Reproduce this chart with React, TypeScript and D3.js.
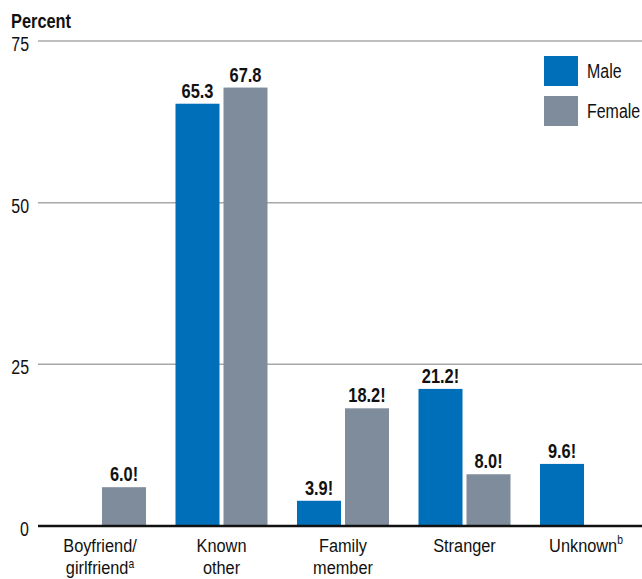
import React from "react";
import * as d3 from "d3";

const categories = ["Boyfriend/girlfriend", "Known other", "Family member", "Stranger", "Unknown"];
const categoryLines: [string, string, string?][] = [
  ["Boyfriend/", "girlfriend", "a"],
  ["Known", "other"],
  ["Family", "member"],
  ["Stranger", ""],
  ["Unknown", "", "b"],
];
const series = ["Male", "Female"];
const maleValues: (number | null)[] = [null, 65.3, 3.9, 21.2, 9.6];
const femaleValues: (number | null)[] = [6.0, 67.8, 18.2, 8.0, null];
const maleLabels = ["", "65.3", "3.9!", "21.2!", "9.6!"];
const femaleLabels = ["6.0!", "67.8", "18.2!", "8.0!", ""];
const yTicks = [0, 25, 50, 75];

const colors: Record<string, string> = { Male: "#006fba", Female: "#7f8c9b" };
const FONT = "'Liberation Sans', Arial, sans-serif";

function T({ x, y, anchor = "start", size = 20, weight = "normal", sx = 0.8, children }: any) {
  return (
    <text
      transform={`translate(${x},${y}) scale(${sx},1)`}
      textAnchor={anchor}
      fontSize={size}
      fontWeight={weight}
      fill="#111"
    >
      {children}
    </text>
  );
}

export default function App() {
  const W = 642, H = 579;
  const y = d3.scaleLinear().domain([0, 75]).range([526, 41]);
  const x0 = d3
    .scaleBand<string>()
    .domain(categories)
    .range([39.25, 646.75])
    .paddingInner(0.2428)
    .paddingOuter(0.1214);
  const x1 = d3
    .scaleBand<string>()
    .domain(series)
    .range([0, x0.bandwidth()])
    .paddingInner(0.0833)
    .paddingOuter(0);
  const valuesBy: Record<string, (number | null)[]> = { Male: maleValues, Female: femaleValues };
  const labelsBy: Record<string, string[]> = { Male: maleLabels, Female: femaleLabels };

  return (
    <svg width={W} height={H} style={{ position: "absolute", left: 0, top: 0, fontFamily: FONT }}>
      <rect width={W} height={H} fill="#fff" />
      <T x={11} y={28} size={21} weight="bold" sx={0.78}>Percent</T>
      {yTicks.map((t) => (
        <g key={t}>
          {t > 0 && <line x1={38} x2={642} y1={y(t)} y2={y(t)} stroke="#a8a8a8" strokeWidth={1.5} />}
          <T x={29} y={y(t) + 10} anchor="end" size={21} sx={0.76}>{t}</T>
        </g>
      ))}
      {categories.map((c, i) => (
        <g key={c} transform={`translate(${x0(c)},0)`}>
          {series.map((s) => {
            const v = valuesBy[s][i];
            if (v == null) return null;
            const bx = x1(s)!;
            return (
              <g key={s}>
                <rect x={bx} y={y(v)} width={x1.bandwidth()} height={y(0) - y(v)} fill={colors[s]} />
                <T x={bx + x1.bandwidth() / 2} y={y(v) - 6} anchor="middle" size={20.5} weight="bold" sx={0.8}>
                  {labelsBy[s][i]}
                </T>
              </g>
            );
          })}
        </g>
      ))}
      <line x1={38} x2={642} y1={y(0)} y2={y(0)} stroke="#111" strokeWidth={2.7} />
      {categories.map((c, i) => {
        const cx = x0(c)! + x0.bandwidth() / 2;
        const [l1, l2, sup] = categoryLines[i];
        return (
          <g key={c}>
            <T x={cx} y={552} anchor="middle" size={19} sx={0.86}>
              {l1}
              {sup && !l2 ? <tspan fontSize={12} dy={-8}>{sup}</tspan> : null}
            </T>
            {l2 && (
              <T x={cx} y={573.5} anchor="middle" size={19} sx={0.86}>
                {l2}
                {sup ? <tspan fontSize={12} dy={-6}>{sup}</tspan> : null}
              </T>
            )}
          </g>
        );
      })}
      {series.map((s, i) => (
        <g key={s}>
          <rect x={544} y={56 + i * 40} width={34} height={30} fill={colors[s]} />
          <T x={587} y={56 + i * 40 + 22} size={21} sx={0.76}>{s}</T>
        </g>
      ))}
    </svg>
  );
}
